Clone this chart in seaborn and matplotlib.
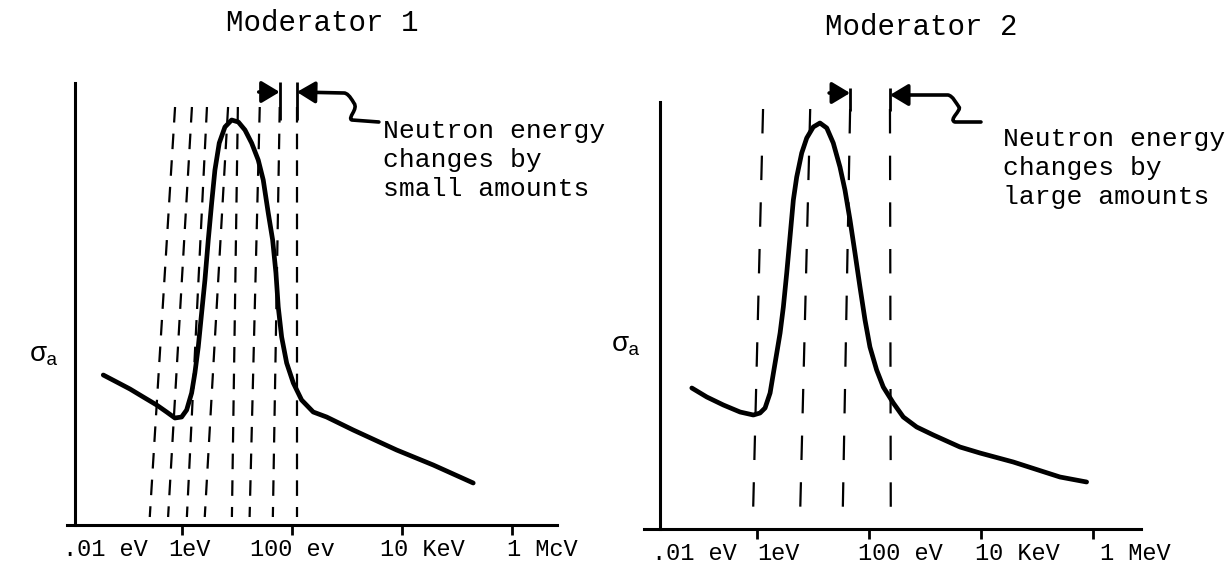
import numpy as np
import pandas as pd
import matplotlib
matplotlib.use("Agg")
import matplotlib.pyplot as plt
from matplotlib.path import Path
from matplotlib.patches import FancyArrowPatch
from matplotlib.transforms import ScaledTranslation
import seaborn as sns

# ---------------- data ----------------
tick_values_eV = [0.01, 1, 100, 1e4, 1e6]
m1_tick_labels = [".01 eV", "1eV", "100 ev", "10 KeV", "1 McV"]
m2_tick_labels = [".01 eV", "1eV", "100 eV", "10 KeV", "1 MeV"]

# Moderator 1 absorption cross-section curve (arbitrary units)
m1_energy_eV = [0.0371, 0.065, 0.1135, 0.198, 0.347, 0.527, 0.746, 0.987, 1.218, 1.50,
                1.72, 1.98, 2.28, 2.62, 3.01, 3.47, 3.98, 4.77, 6.05, 8.01,
                10.6, 14.0, 18.5, 24.4, 30.1, 37.1, 44.6, 51.2, 56.4, 65.0,
                80.2, 106, 150, 244, 427, 1300, 8020, 37100, 198000]
m1_sigma = [150, 143, 136, 128, 120, 113, 107, 108, 115, 132,
            152, 178, 212, 245, 285, 322, 355, 382, 398, 405,
            403, 395, 382, 365, 345, 312, 285, 252, 218, 188,
            162, 142, 125, 113, 108, 95, 75, 60, 42]

# Moderator 2 absorption cross-section curve
m2_energy_eV = [0.0683, 0.1265, 0.250, 0.497, 0.859, 1.13, 1.39, 1.71, 1.96, 2.25,
                2.58, 2.95, 3.39, 3.88, 4.45, 5.11, 6.28, 7.72, 10.1, 13.3,
                17.6, 23.0, 30.3, 37.2, 45.8, 56.2, 69.0, 84.9, 104, 137,
                180, 272, 410, 711, 1410, 4220, 9600, 37800, 258000, 773000]
m2_sigma = [141, 132, 124, 117, 114, 116, 121, 136, 156, 176,
            196, 222, 256, 292, 329, 352, 376, 391, 402, 406,
            401, 386, 362, 339, 309, 276, 242, 209, 182, 159,
            142, 126, 112, 102, 94, 82, 76, 67, 52, 47]

# successive neutron energies after collisions (dashed lines: top / bottom ends)
m1_steps_top_eV = [0.75, 1.52, 2.85, 6.9, 10.4, 26, 60, 123]
m1_steps_bottom_eV = [0.26, 0.56, 1.23, 2.6, 8.1, 17, 45, 123]
m2_steps_top_eV = [1.28, 8.9, 46, 237]
m2_steps_bottom_eV = [0.85, 5.9, 34, 245]

titles = ["Moderator 1", "Moderator 2"]
m1_note = ["Neutron energy", "changes by", "small amounts"]
m2_note = ["Neutron energy", "changes by", "large amounts"]

# ---------------- style ----------------
sns.set_theme(style="white")
plt.rcParams["font.family"] = ["Liberation Mono", "DejaVu Sans"]
plt.rcParams["mathtext.fontset"] = "custom"
plt.rcParams["mathtext.rm"] = "Liberation Mono"
plt.rcParams["mathtext.it"] = "Liberation Mono"

W, H = 1232, 565
fig = plt.figure(figsize=(W / 100, H / 100), dpi=100)
fig.patch.set_facecolor("white")

ax1 = fig.add_axes([67 / W, (H - 525) / H, (557 - 67) / W, (525 - 83) / H])
ax2 = fig.add_axes([644 / W, (H - 529) / H, (1141 - 644) / W, (529 - 102) / H])

panels = [
    dict(ax=ax1, E=m1_energy_eV, s=m1_sigma, top=m1_steps_top_eV, bot=m1_steps_bottom_eV,
         labels=m1_tick_labels, xlim=(10 ** -2.09, 10 ** 6.82), spine=10 ** -1.945,
         ylim=(0, 442), shifts=[-9, -14, -42, -22, -5], dash=(0, (7, 5)),
         dtop=418, dbot=8, ylab=(-0.047, (525 - 355) / 442)),
    dict(ax=ax2, E=m2_energy_eV, s=m2_sigma, top=m2_steps_top_eV, bot=m2_steps_bottom_eV,
         labels=m2_tick_labels, xlim=(10 ** -2.02, 10 ** 6.86), spine=10 ** -1.732,
         ylim=(0, 427), shifts=[7, 0, -11, -6, 7], dash=(0, (11, 10)),
         dtop=420, dbot=18, ylab=(-0.036, (529 - 345) / 427)),
]

for p in panels:
    ax = p["ax"]
    ax.set_facecolor("white")
    df = pd.DataFrame({"energy_eV": p["E"], "sigma": p["s"]})
    sns.lineplot(data=df, x="energy_eV", y="sigma", ax=ax, color="black",
                 linewidth=3.4, estimator=None, sort=True)
    for line in ax.lines:
        line.set_solid_joinstyle("round")
        line.set_solid_capstyle("round")
    for et, eb in zip(p["top"], p["bot"]):
        ax.plot([et, eb], [p["dtop"], p["dbot"]], color="black", lw=1.6,
                linestyle=p["dash"], clip_on=False)
    ax.set_xscale("log")
    ax.set_xlim(*p["xlim"])
    ax.set_ylim(*p["ylim"])
    ax.xaxis.set_minor_locator(matplotlib.ticker.NullLocator())
    ax.set_xticks(tick_values_eV, p["labels"])
    ax.set_yticks([])
    ax.tick_params(axis="x", direction="out", length=7, width=2, pad=2,
                   labelsize=17, colors="black", bottom=True)
    ax.xaxis.get_major_ticks()[0].tick1line.set_visible(False)
    for lbl, dx in zip(ax.get_xticklabels(), p["shifts"]):
        lbl.set_horizontalalignment("left")
        lbl.set_transform(lbl.get_transform() + ScaledTranslation(dx / 100, 0, fig.dpi_scale_trans))
    for side in ["top", "right"]:
        ax.spines[side].set_visible(False)
    for side in ["left", "bottom"]:
        ax.spines[side].set_color("black")
        ax.spines[side].set_linewidth(2.2)
    ax.spines["left"].set_position(("data", p["spine"]))
    ax.set_xlabel("")
    ax.set_ylabel(r"$\sigma_{\mathrm{a}}$", rotation=0, fontsize=20, color="black",
                  va="center", ha="center")
    ax.yaxis.set_label_coords(*p["ylab"])


def to_disp(ax, E, s):
    x, y = ax.transData.transform((E, s))
    return x, y


def add_bar(ax, E, s_hi, s_lo):
    ax.plot([E, E], [s_hi, s_lo], color="black", lw=2.0, clip_on=False, solid_capstyle="butt")


def straight_arrow(ax, E, s, length_px):
    x, y = to_disp(ax, E, s)
    a = FancyArrowPatch(posA=((x - length_px) / W, y / H), posB=(x / W, y / H),
                        transform=fig.transFigure, arrowstyle="-|>,head_length=0.5,head_width=0.3",
                        mutation_scale=22, lw=2.6, color="black", shrinkA=0, shrinkB=0)
    fig.add_artist(a)


def squiggle_arrow(ax, E, s, offs):
    x, y = to_disp(ax, E, s)
    verts = [((x + dx) / W, (y - dy) / H) for dx, dy in offs]
    codes = [Path.MOVETO, Path.LINETO, Path.CURVE4, Path.CURVE4, Path.CURVE4,
             Path.CURVE4, Path.CURVE4, Path.CURVE4, Path.LINETO]
    a = FancyArrowPatch(path=Path(verts, codes), transform=fig.transFigure,
                        arrowstyle="-|>,head_length=0.5,head_width=0.3", mutation_scale=22,
                        lw=2.6, color="black", shrinkA=0, shrinkB=0)
    fig.add_artist(a)


# Moderator 1 markers
add_bar(ax1, m1_steps_top_eV[6], 443, 405)
add_bar(ax1, m1_steps_top_eV[7], 443, 405)
straight_arrow(ax1, m1_steps_top_eV[6], 433, 21)
squiggle_arrow(ax1, m1_steps_top_eV[7], 433,
               [(82, 30), (55, 28), (50, 26), (62, 17), (57, 11),
                (53, 4), (50, 1), (47, 1), (0, 0)])

# Moderator 2 markers
add_bar(ax2, m2_steps_top_eV[2], 441, 418)
add_bar(ax2, m2_steps_top_eV[3], 441, 418)
straight_arrow(ax2, m2_steps_top_eV[2], 436, 21)
squiggle_arrow(ax2, m2_steps_top_eV[3], 434,
               [(91, 27), (65, 27), (58, 25), (72, 15), (69, 12),
                (66, 8), (63, 1), (58, 0), (0, 0)])

# titles
fig.text(322 / W, 1 - 31 / H, titles[0], ha="center", va="baseline", fontsize=21, color="black")
fig.text(921 / W, 1 - 35 / H, titles[1], ha="center", va="baseline", fontsize=21, color="black")

# notes
for i, line in enumerate(m1_note):
    fig.text(383 / W, 1 - (138 + 29 * i) / H, line, ha="left", va="baseline",
             fontsize=19, color="black")
for i, line in enumerate(m2_note):
    fig.text(1003 / W, 1 - (146 + 29 * i) / H, line, ha="left", va="baseline",
             fontsize=19, color="black")

fig.savefig("out.png", dpi=100, facecolor="white")
